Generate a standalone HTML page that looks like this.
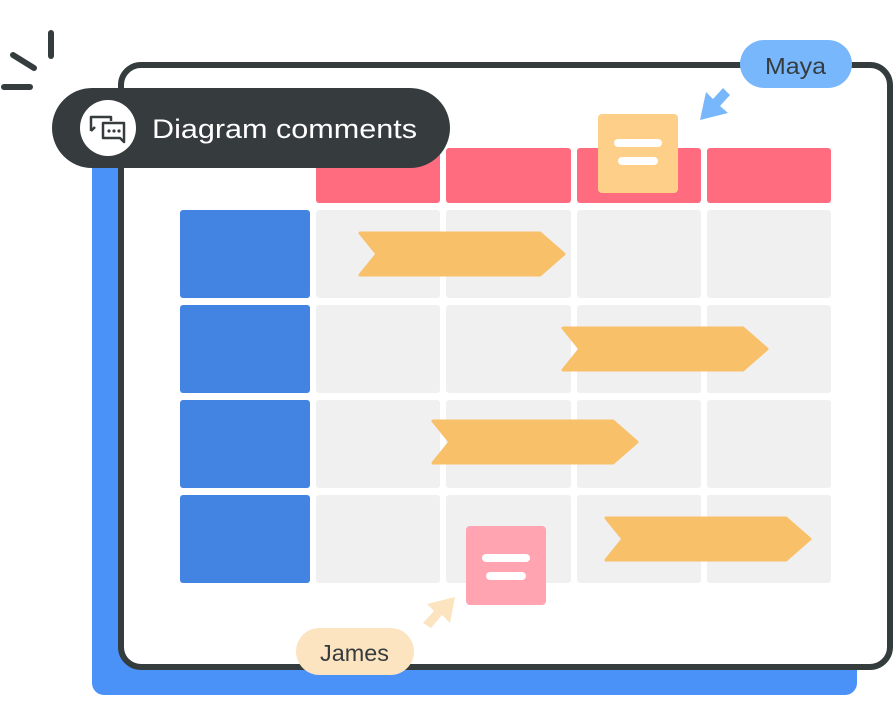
<!DOCTYPE html>
<html><head><meta charset="utf-8"><style>
html,body{margin:0;padding:0;background:#fff;width:896px;height:716px;overflow:hidden}
svg{display:block}
</style></head><body>
<svg width="896" height="716" viewBox="0 0 896 716" xmlns="http://www.w3.org/2000/svg" font-family="'Liberation Sans','DejaVu Sans',sans-serif">
<rect x="92" y="150" width="765" height="545" rx="12" fill="#4a92f8"/>
<rect x="121" y="65" width="769" height="602" rx="20" fill="#fff" stroke="#353c3e" stroke-width="6"/>
<g stroke="#353c3e" stroke-width="6" stroke-linecap="round">
<line x1="51" y1="33" x2="51" y2="56"/>
<line x1="13" y1="55" x2="34" y2="68"/>
<line x1="4" y1="87" x2="30" y2="87"/>
</g>
<g fill="#ff6b7f">
<rect x="316" y="148" width="124" height="55" rx="3"/>
<rect x="446" y="148" width="125" height="55" rx="3"/>
<rect x="577" y="148" width="124" height="55" rx="3"/>
<rect x="707" y="148" width="124" height="55" rx="3"/>
</g>
<g fill="#4383e2">
<rect x="180" y="210" width="130" height="88" rx="3"/>
<rect x="180" y="305" width="130" height="88" rx="3"/>
<rect x="180" y="400" width="130" height="88" rx="3"/>
<rect x="180" y="495" width="130" height="88" rx="3"/>
</g>
<g fill="#f0f0f0">
<rect x="316" y="210" width="124" height="88" rx="3"/><rect x="446" y="210" width="125" height="88" rx="3"/><rect x="577" y="210" width="124" height="88" rx="3"/><rect x="707" y="210" width="124" height="88" rx="3"/>
<rect x="316" y="305" width="124" height="88" rx="3"/><rect x="446" y="305" width="125" height="88" rx="3"/><rect x="577" y="305" width="124" height="88" rx="3"/><rect x="707" y="305" width="124" height="88" rx="3"/>
<rect x="316" y="400" width="124" height="88" rx="3"/><rect x="446" y="400" width="125" height="88" rx="3"/><rect x="577" y="400" width="124" height="88" rx="3"/><rect x="707" y="400" width="124" height="88" rx="3"/>
<rect x="316" y="495" width="124" height="88" rx="3"/><rect x="446" y="495" width="125" height="88" rx="3"/><rect x="577" y="495" width="124" height="88" rx="3"/><rect x="707" y="495" width="124" height="88" rx="3"/>
</g>
<g fill="#f8c068" stroke="#f8c068" stroke-width="3" stroke-linejoin="round">
<polygon points="360,233 540,233 564,254 540,275 360,275 377,254"/>
<polygon points="563,328 743,328 767,349 743,370 563,370 580,349"/>
<polygon points="433,421 613,421 637,442 613,463 433,463 450,442"/>
<polygon points="606,518 786,518 810,539 786,560 606,560 623,539"/>
</g>
<rect x="598" y="114" width="80" height="79" rx="4" fill="#fecf88"/>
<g stroke="#fff" stroke-width="8" stroke-linecap="round"><line x1="618" y1="143" x2="658" y2="143"/><line x1="622" y1="161" x2="654" y2="161"/></g>
<rect x="466" y="526" width="80" height="79" rx="4" fill="#ffa4b0"/>
<g stroke="#fff" stroke-width="8" stroke-linecap="round"><line x1="486" y1="558" x2="526" y2="558"/><line x1="490" y1="576" x2="522" y2="576"/></g>
<rect x="52" y="88" width="398" height="80" rx="40" fill="#363c3e"/>
<circle cx="108" cy="128" r="28" fill="#fff"/>
<g fill="none" stroke="#363c3e" stroke-width="2.5" stroke-linejoin="round">
<path d="M91,131 V117 H111 V121"/>
<path d="M91,131 L95,127"/>
<path d="M103,123 H124 V142 L120,138 H103 Z"/>
</g>
<g fill="#363c3e"><circle cx="109" cy="131" r="1.6"/><circle cx="114" cy="131" r="1.6"/><circle cx="119" cy="131" r="1.6"/></g>
<text x="152" y="138" font-size="27" fill="#fff" textLength="265" lengthAdjust="spacingAndGlyphs">Diagram comments</text>
<rect x="740" y="40" width="112" height="48" rx="24" fill="#79b7fd"/>
<text x="765" y="74" font-size="23" fill="#363c3e" textLength="61" lengthAdjust="spacingAndGlyphs">Maya</text>
<path d="M730,95 L720,106 L728,113 L700,120 L706,92 L713,99 L723,88 Z" fill="#79b7fd"/>
<rect x="296" y="628" width="118" height="47" rx="23.5" fill="#fce4c0"/>
<text x="320" y="661" font-size="23" fill="#363c3e" textLength="69" lengthAdjust="spacingAndGlyphs">James</text>
<path d="M423,623 L434,611 L427,604 L455,597 L450,623 L442,615 L431,628 Z" fill="#fce4c0"/>
</svg>
</body></html>
